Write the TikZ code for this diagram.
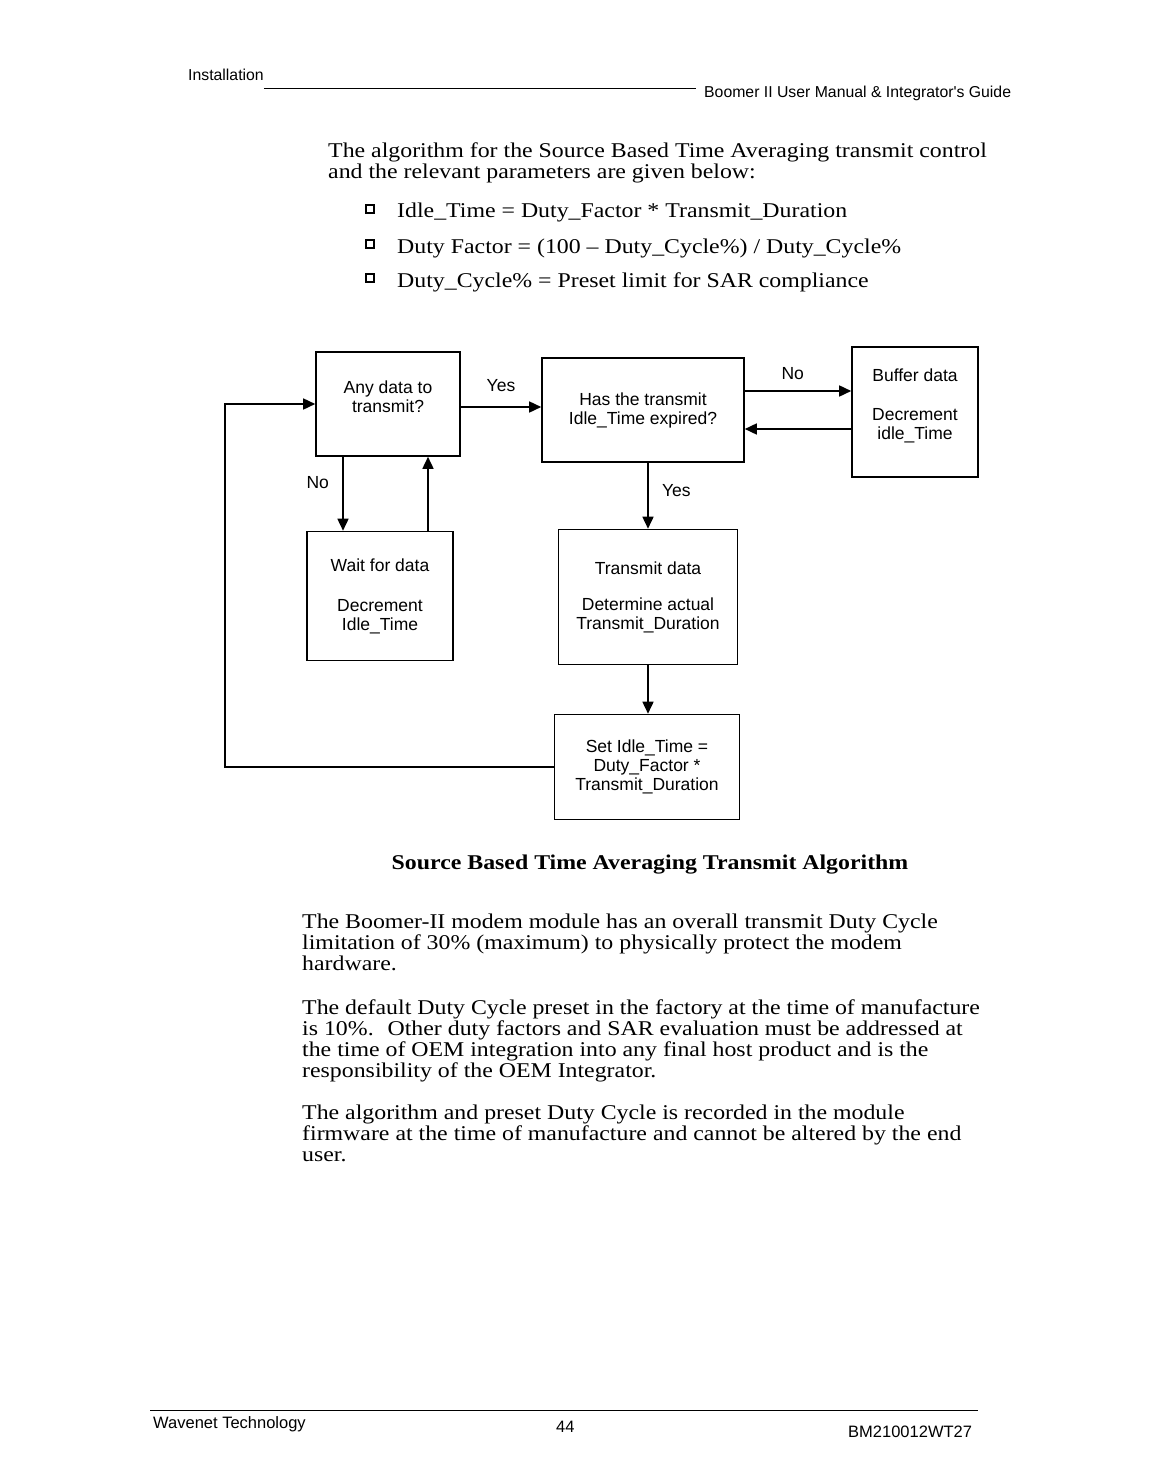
\documentclass[tikz,border=0pt]{standalone}
\usepackage{fontspec}
\setmainfont{Liberation Serif}[FakeStretch=1.135]
\newfontfamily\arialfont{Liberation Sans}
\usetikzlibrary{arrows.meta, positioning}

\begin{document}
\begin{tikzpicture}[
    x=1pt, y=-1pt,
    >={Triangle[length=12pt,width=11pt]},
    box/.style={draw, line width=1.6pt, align=center, inner sep=2pt,
                font=\arialfont\fontsize{17.5}{19}\selectfont},
    arr/.style={->, line width=1.6pt},
    lbl/.style={font=\arialfont\fontsize{17.5}{19}\selectfont},
    body/.style={anchor=north west, inner sep=0pt, align=left,
                 font=\fontsize{21}{21}\selectfont},
    item/.style={anchor=base west, inner sep=0pt, font=\fontsize{21}{21}\selectfont},
    bulletbox/.style={draw, line width=1.1pt, minimum size=8pt, inner sep=0pt},
    hdr/.style={font=\arialfont\fontsize{15.8}{17}\selectfont, inner sep=0pt, anchor=base west},
    ftr/.style={font=\arialfont\fontsize{16.5}{18}\selectfont, inner sep=0pt, anchor=base west},
]
\useasboundingbox[fill=white] (0,0) rectangle (1151,1466);

% page header
\node[hdr] (hdrleft)  at (188, 81) {Installation};
\node[hdr] (hdrright) at (704, 98) {Boomer II User Manual \& Integrator's Guide};
\draw[line width=0.8pt] ([yshift=-7pt]hdrleft.base east) -- ([yshift=-7pt,xshift=-8pt]hdrleft.base east -| hdrright.base west);

% intro text and parameters
\node[body] (intro) at (328, 143) {The algorithm for the Source Based Time Averaging transmit control\\
and the relevant parameters are given below:};
\node[bulletbox] (b1) at (370, 209) {};
\node[bulletbox] (b2) at (370, 244) {};
\node[bulletbox] (b3) at (370, 278) {};
\node[item] (p1) at (397, 218) {Idle\_Time = Duty\_Factor * Transmit\_Duration};
\node[item] (p2) at (397, 253) {Duty Factor = (100 -- Duty\_Cycle\%) / Duty\_Cycle\%};
\node[item] (p3) at (397, 287) {Duty\_Cycle\% = Preset limit for SAR compliance};

% flow chart
\node[box, minimum width=144pt, minimum height=104pt] (anydata)  at (388, 404) {Any data to\\transmit?\\[-4pt]\mbox{}};
\node[box, minimum width=202pt, minimum height=104pt] (expired)  at (643, 410) {Has the transmit\\Idle\_Time expired?};
\node[box, minimum width=126pt, minimum height=130pt] (buffer)   at (915, 412) {Buffer data\\[20pt]Decrement\\idle\_Time\\[-4pt]\mbox{}};
\node[box, minimum width=146pt, minimum height=129pt] (waitdata) at (380, 596) {Wait for data\\[21pt]Decrement\\Idle\_Time};
\node[box, minimum width=179pt, minimum height=135pt] (transmit) at (648, 597) {Transmit data\\[17pt]Determine actual\\Transmit\_Duration};
\node[box, minimum width=185pt, minimum height=105pt] (setidle)  at (647, 767) {Set Idle\_Time =\\Duty\_Factor *\\Transmit\_Duration};

\draw[arr] ([yshift=-3pt]anydata.east) -- ([yshift=-3pt]anydata.east -| expired.west)
    node[lbl, pos=0.5, above=11pt] {Yes};
\draw[arr] ([yshift=19pt]expired.east) -- ([yshift=19pt]expired.east -| buffer.west)
    node[lbl, pos=0.45, above=7pt] {No};
\draw[arr] ([yshift=-19pt]expired.east -| buffer.west) -- ([yshift=-19pt]expired.east);
\draw[arr] ([xshift=-45pt]anydata.south) -- ([xshift=-45pt]anydata.south |- waitdata.north)
    node[lbl, pos=0.35, left=10pt] {No};
\draw[arr] ([xshift=40pt]anydata.south |- waitdata.north) -- ([xshift=40pt]anydata.south);
\draw[arr] (expired.south -| transmit.north) -- (transmit.north)
    node[lbl, pos=0.42, right=10pt] {Yes};
\draw[arr] (transmit.south) -- (transmit.south |- setidle.north);
\draw[arr] (setidle.west) -| ([xshift=-90pt]anydata.west) -- (anydata.west);

% caption and notes
\node[anchor=base, inner sep=0pt, font=\bfseries\fontsize{21}{24}\selectfont] (caption) at (650, 869)
    {Source Based Time Averaging Transmit Algorithm};
\node[body] (note1) at (302, 914) {The Boomer-II modem module has an overall transmit Duty Cycle\\
limitation of 30\% (maximum) to physically protect the modem\\
hardware.};
\node[body] (note2) at (302, 1000) {The default Duty Cycle preset in the factory at the time of manufacture\\
is 10\%.~ Other duty factors and SAR evaluation must be addressed at\\
the time of OEM integration into any final host product and is the\\
responsibility of the OEM Integrator.};
\node[body] (note3) at (302, 1105) {The algorithm and preset Duty Cycle is recorded in the module\\
firmware at the time of manufacture and cannot be altered by the end\\
user.};

% page footer
\node[ftr] (ftrleft)  at (153, 1428) {Wavenet Technology};
\node[ftr] (ftrpage)  at (556, 1432) {44};
\node[ftr] (ftrright) at (848, 1437) {BM210012WT27};
\draw[line width=0.8pt] ([yshift=18pt,xshift=-3pt]ftrleft.base west) -- ([yshift=18pt,xshift=6pt]ftrleft.base west -| ftrright.base east);
\end{tikzpicture}
\end{document}
